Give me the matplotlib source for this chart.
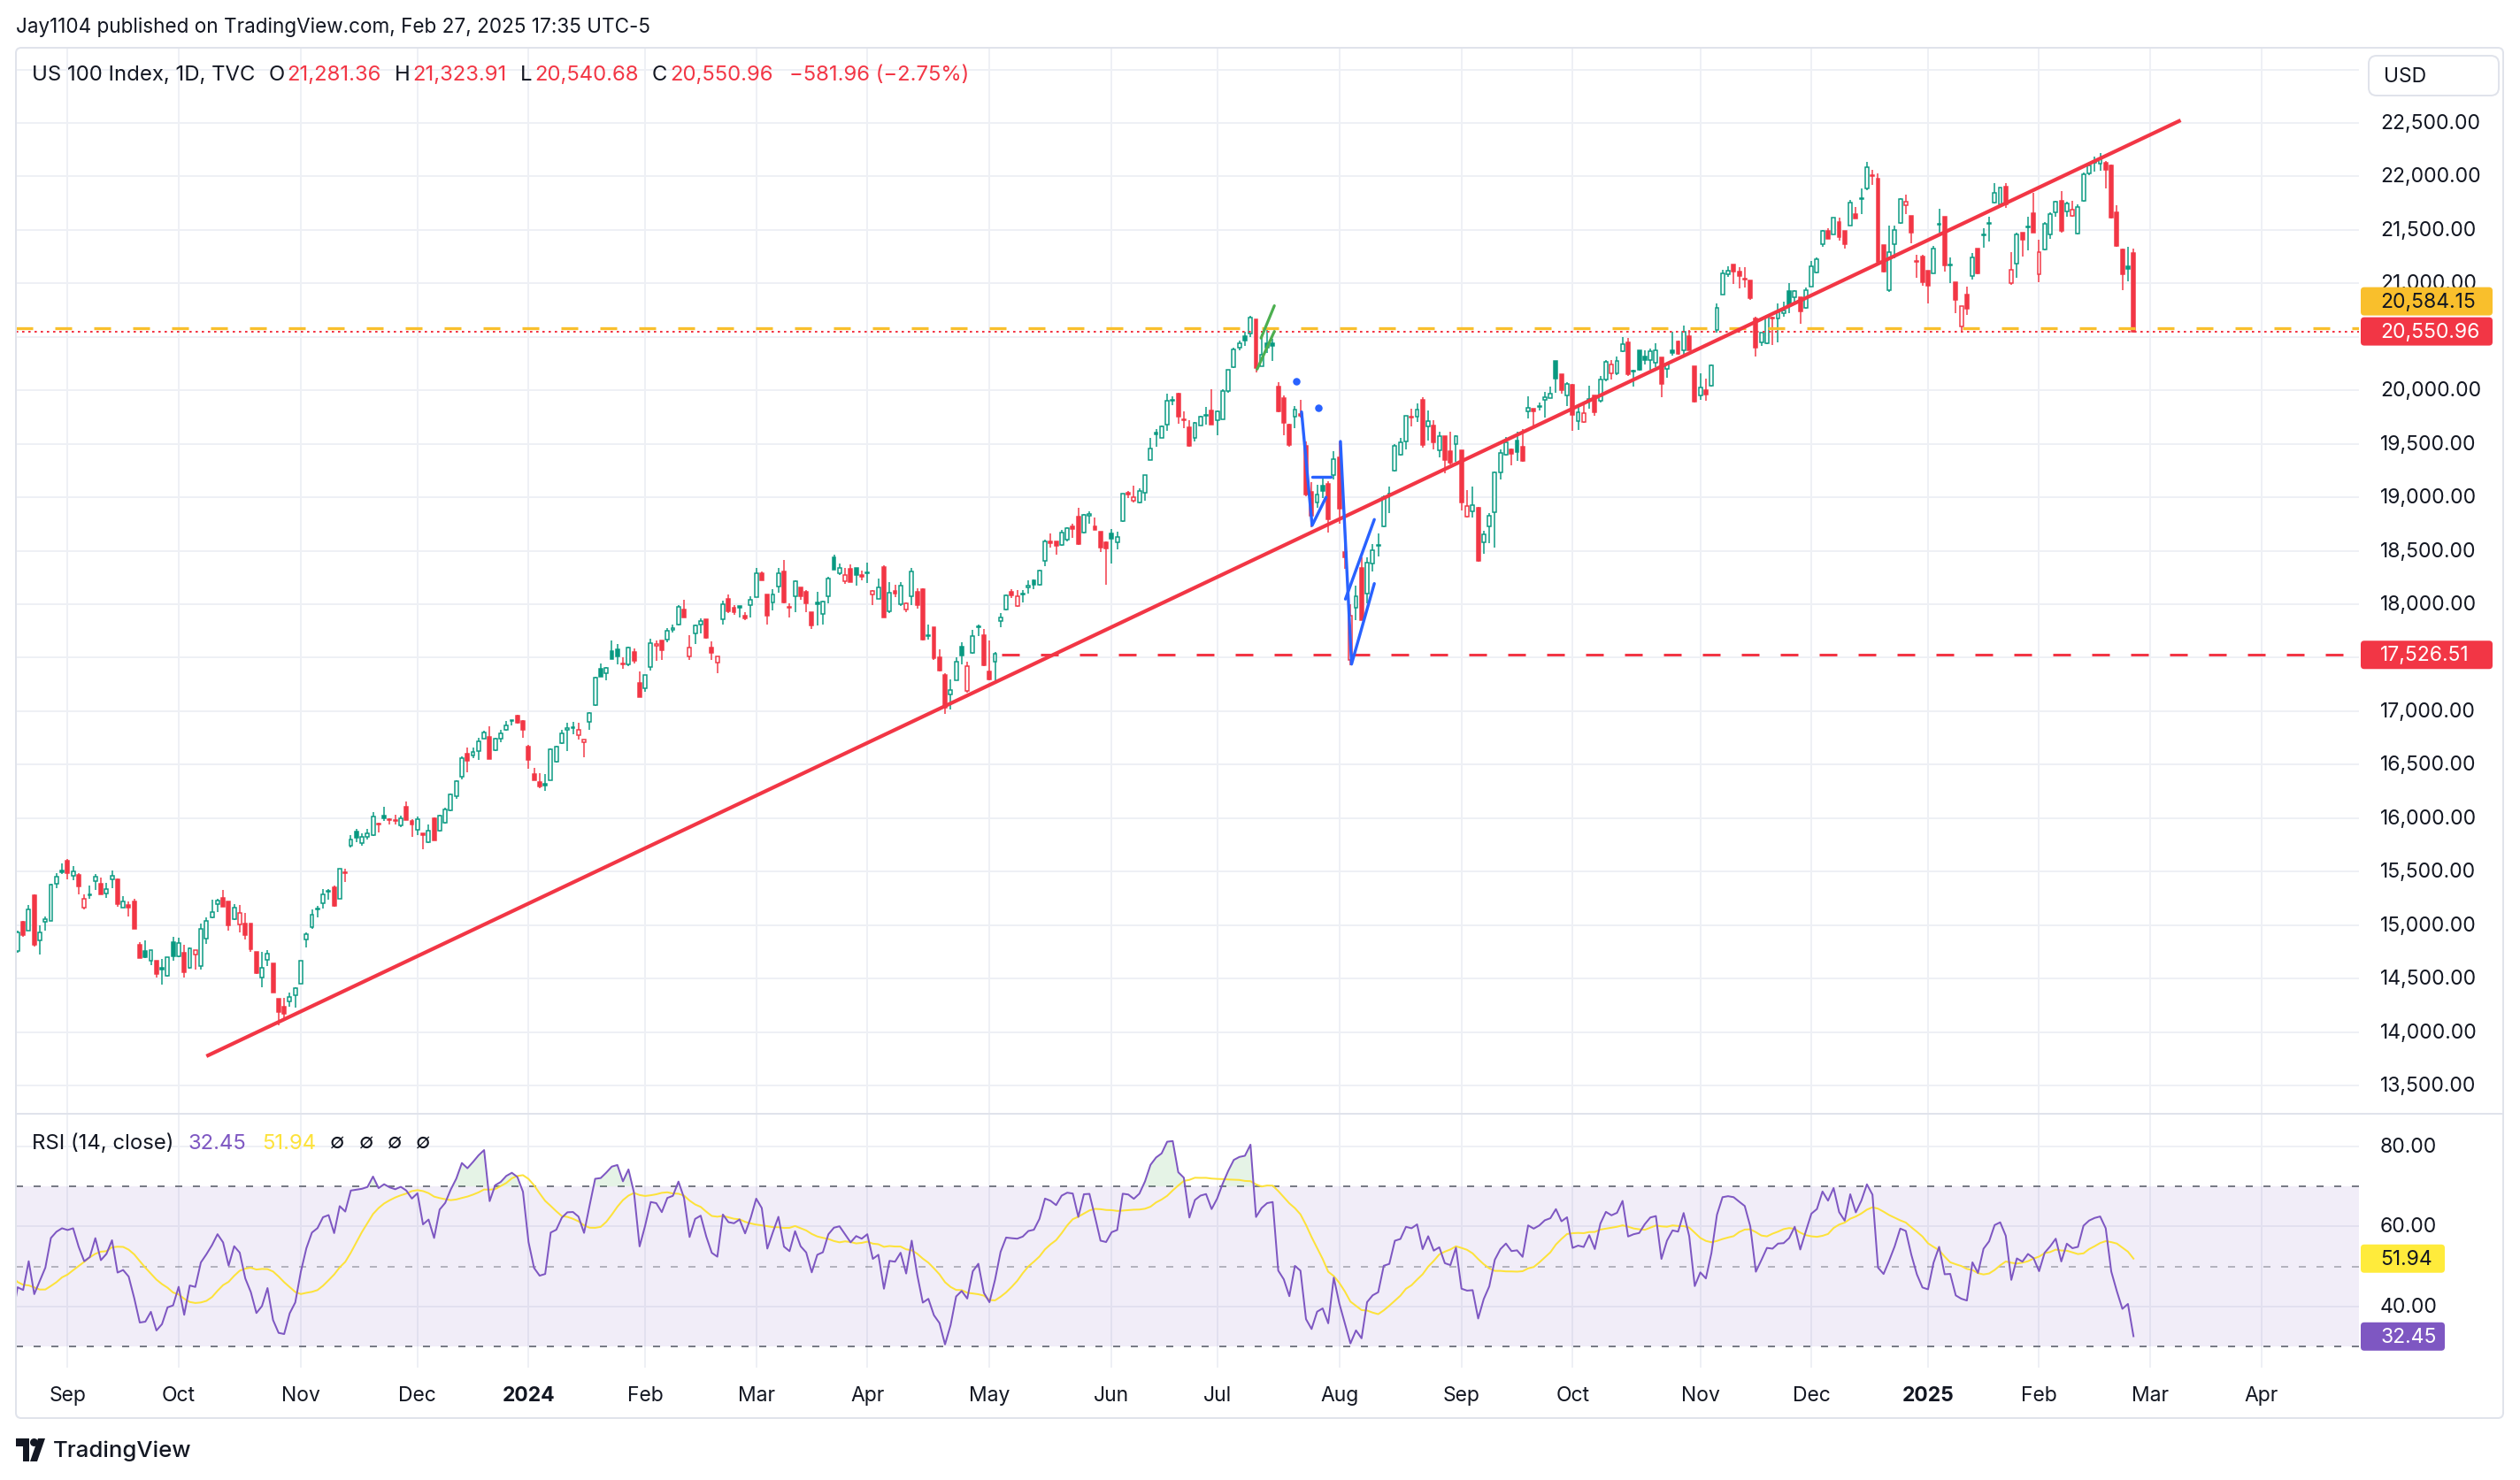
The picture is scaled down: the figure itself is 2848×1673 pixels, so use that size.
import numpy as np
import pandas as pd
import matplotlib
matplotlib.use("Agg")
import matplotlib.pyplot as plt
from matplotlib.patches import FancyBboxPatch, Polygon, Circle
from matplotlib.collections import LineCollection
from matplotlib.lines import Line2D
from matplotlib.transforms import IdentityTransform, blended_transform_factory

# ---------------------------------------------------------------- data
# US 100 Index daily candles, bar 0 = 2023-08-21 ... bar 381 = 2025-02-27
opens = [
    14760, 15028, 14945, 15276, 14854, 15028, 15036, 15386, 15510, 15601,
    15463, 15469, 15166, 15276, 15408, 15386, 15298, 15427, 15427, 15165,
    15190, 15221, 14812, 14757, 14664, 14669, 14600, 14523, 14843, 14710,
    14738, 14600, 14724, 14619, 14876, 15069, 15199, 15257, 15221, 15055,
    15006, 15014, 15014, 14752, 14509, 14675, 14641, 14310, 14240, 14283,
    14343, 14448, 14862, 14978, 15143, 15207, 15310, 15350, 15248, 15488,
    15739, 15877, 15767, 15828, 15841, 15948, 16020, 15985, 15975, 15932,
    16103, 15970, 15888, 15855, 15773, 15998, 15883, 15954, 16069, 16208,
    16387, 16602, 16583, 16630, 16740, 16762, 16635, 16746, 16823, 16905,
    16961, 16906, 16671, 16414, 16340, 16318, 16354, 16528, 16699, 16823,
    16840, 16773, 16707, 16900, 17058, 17398, 17353, 17563, 17582, 17440,
    17436, 17555, 17265, 17215, 17417, 17610, 17657, 17666, 17757, 17812,
    17950, 17513, 17729, 17812, 17859, 17591, 17453, 17859, 18053, 17970,
    17980, 17895, 17989, 18066, 18293, 18088, 18016, 18163, 18309, 17975,
    18072, 18154, 18115, 17928, 18016, 17906, 18072, 18439, 18292, 18218,
    18328, 18337, 18270, 18290, 18088, 18052, 18348, 17933, 18127, 17997,
    17950, 18074, 18115, 18140, 17700, 17783, 17506, 17340, 17160, 17285,
    17603, 17188, 17548, 17797, 17714, 17374, 17465, 17844, 17949, 18120,
    17982, 18095, 18160, 18220, 18185, 18405, 18590, 18585, 18558, 18600,
    18730, 18820, 18670, 18830, 18725, 18682, 18580, 18660, 18580, 18780,
    19045, 18970, 18950, 19043, 19347, 19605, 19555, 19680, 19905, 19970,
    19730, 19652, 19555, 19670, 19765, 19815, 19720, 19733, 19995, 20218,
    20398, 20508, 20532, 20667, 20226, 20440, 20440, 20038, 19927, 19680,
    19750, 19780, 19477, 19050, 18950, 19110, 19125, 19208, 19374, 18490,
    17480, 17965, 18338, 18103, 18380, 18545, 18725, 19030, 19250, 19394,
    19520, 19750, 19753, 19908, 19665, 19670, 19443, 19568, 19430, 19499,
    19438, 18822, 18869, 18905, 18581, 18730, 18858, 19236, 19394, 19450,
    19527, 19470, 19800, 19825, 19845, 19914, 19928, 20273, 20149, 19955,
    20052, 19715, 19707, 19905, 19955, 19900, 20102, 20163, 20157, 20362,
    20445, 20172, 20370, 20315, 20287, 20260, 20306, 20204, 20370, 20453,
    20370, 20508, 20224, 19955, 20002, 20047, 20564, 20895, 21089, 21180,
    21108, 21045, 21030, 20675, 20445, 20439, 20670, 20674, 20725, 20925,
    20870, 20870, 20770, 20972, 21103, 21364, 21488, 21455, 21570, 21488,
    21543, 21652, 21785, 21885, 22010, 21976, 21356, 20939, 21364, 21564,
    21729, 21630, 21210, 21255, 21117, 21095, 21550, 21620, 21165, 21013,
    20596, 20898, 21070, 21328, 21460, 21555, 21757, 21735, 21905, 21000,
    21186, 21474, 21520, 21658, 21082, 21318, 21460, 21666, 21775, 21674,
    21630, 21466, 21776, 22031, 22130, 22118, 22130, 22105, 21666, 21318,
    21160, 21281.36,
]
highs = [
    14950, 15040, 15188, 15290, 14995, 15083, 15386, 15482, 15580, 15620,
    15552, 15483, 15284, 15367, 15477, 15441, 15394, 15510, 15436, 15268,
    15221, 15243, 14843, 14854, 14763, 14669, 14683, 14700, 14890, 14884,
    14812, 14793, 14765, 15014, 15069, 15234, 15243, 15325, 15221, 15199,
    15188, 15116, 15014, 14752, 14752, 14765, 14641, 14310, 14319, 14371,
    14415, 14669, 14931, 15143, 15179, 15336, 15336, 15372, 15530, 15530,
    15841, 15896, 15855, 15896, 16055, 15960, 16109, 16000, 16034, 16025,
    16158, 15993, 16014, 15860, 15938, 16003, 16034, 16097, 16227, 16352,
    16577, 16657, 16663, 16754, 16818, 16859, 16754, 16829, 16912, 16920,
    16967, 16920, 16685, 16470, 16417, 16409, 16649, 16680, 16829, 16892,
    16900, 16892, 16735, 16994, 17320, 17445, 17409, 17657, 17624, 17508,
    17602, 17583, 17370, 17342, 17680, 17657, 17657, 17776, 17812, 17989,
    18039, 17712, 17812, 17867, 17859, 17652, 17514, 18033, 18094, 17990,
    17980, 17922, 18072, 18337, 18310, 18094, 18143, 18337, 18417, 18005,
    18226, 18154, 18135, 17928, 18115, 18033, 18254, 18467, 18384, 18337,
    18375, 18337, 18315, 18392, 18135, 18237, 18364, 18204, 18180, 18204,
    18020, 18336, 18150, 18150, 17810, 17783, 17576, 17354, 17299, 17506,
    17645, 17465, 17761, 17810, 17770, 17659, 17556, 17921, 18093, 18143,
    18130, 18130, 18226, 18231, 18323, 18600, 18663, 18590, 18697, 18723,
    18750, 18903, 18848, 18870, 18808, 18682, 18590, 18700, 18680, 19036,
    19060, 19110, 19080, 19210, 19553, 19637, 19670, 19970, 19940, 19980,
    19805, 19720, 19705, 19760, 19843, 20010, 19815, 20010, 20195, 20398,
    20462, 20550, 20694, 20667, 20523, 20578, 20480, 20080, 19955, 19687,
    19852, 19910, 19520, 19140, 19120, 19200, 19150, 19430, 19526, 18700,
    18000, 18170, 18435, 18435, 18560, 18664, 19015, 19098, 19500, 19554,
    19762, 19830, 19880, 19936, 19810, 19720, 19610, 19568, 19615, 19582,
    19438, 19068, 19098, 18913, 18683, 18850, 19245, 19444, 19560, 19455,
    19610, 19640, 19940, 19830, 19890, 19983, 20038, 20273, 20149, 20074,
    20058, 19858, 19873, 20040, 19955, 20135, 20287, 20287, 20315, 20500,
    20489, 20190, 20378, 20370, 20390, 20440, 20306, 20260, 20550, 20467,
    20605, 20564, 20224, 20163, 20107, 20240, 20812, 21130, 21158, 21180,
    21150, 21150, 21030, 20690, 20536, 20688, 20685, 20812, 20830, 21005,
    20940, 20870, 20960, 21213, 21240, 21502, 21515, 21617, 21611, 21488,
    21784, 21713, 21885, 22133, 22064, 22031, 21356, 21537, 21542, 21795,
    21830, 21630, 21268, 21268, 21117, 21350, 21700, 21620, 21240, 21013,
    20788, 20972, 21282, 21328, 21515, 21620, 21940, 21900, 21940, 21295,
    21474, 21474, 21620, 21844, 21405, 21570, 21666, 21775, 21866, 21762,
    21775, 21740, 22036, 22119, 22187, 22215, 22146, 22113, 21729, 21323,
    21345, 21323.91,
]
lows = [
    14740, 14890, 14945, 14800, 14724, 14950, 15036, 15345, 15480, 15427,
    15419, 15290, 15143, 15248, 15331, 15284, 15256, 15345, 15171, 15160,
    15077, 14967, 14691, 14691, 14625, 14509, 14443, 14517, 14669, 14702,
    14509, 14592, 14586, 14580, 14821, 15061, 15124, 15171, 14945, 15050,
    14931, 14868, 14752, 14545, 14421, 14614, 14366, 14062, 14112, 14239,
    14228, 14448, 14793, 14967, 15069, 15157, 15235, 15171, 15243, 15405,
    15728, 15772, 15739, 15800, 15833, 15869, 15971, 15943, 15938, 15915,
    15980, 15828, 15841, 15707, 15765, 15790, 15877, 15948, 16061, 16180,
    16362, 16431, 16561, 16547, 16740, 16552, 16624, 16713, 16818, 16865,
    16887, 16754, 16459, 16354, 16280, 16257, 16354, 16519, 16690, 16624,
    16782, 16735, 16569, 16823, 17050, 17326, 17287, 17486, 17436, 17398,
    17425, 17445, 17132, 17182, 17381, 17472, 17480, 17646, 17735, 17800,
    17873, 17480, 17629, 17729, 17674, 17480, 17357, 17812, 17915, 17900,
    17873, 17850, 17873, 18066, 18226, 17812, 17942, 18108, 18005, 17878,
    17928, 18038, 17922, 17768, 17804, 17812, 18011, 18320, 18273, 18190,
    18210, 18176, 18226, 18200, 17990, 18052, 17878, 17914, 18070, 17983,
    17925, 17990, 17960, 17660, 17672, 17479, 17374, 16975, 17014, 17285,
    17437, 17174, 17534, 17700, 17423, 17291, 17291, 17783, 17943, 18060,
    17977, 18020, 18100, 18143, 18176, 18359, 18530, 18460, 18550, 18586,
    18617, 18558, 18664, 18750, 18697, 18489, 18185, 18380, 18510, 18767,
    18990, 18950, 18945, 18970, 19347, 19470, 19555, 19625, 19860, 19690,
    19650, 19475, 19525, 19670, 19680, 19680, 19580, 19725, 19980, 20205,
    20370, 20412, 20495, 20170, 20226, 20350, 20276, 19795, 19580, 19470,
    19645, 19745, 19010, 18720, 18900, 18990, 18668, 19166, 18751, 18330,
    17433, 17855, 17855, 18006, 18310, 18448, 18720, 18850, 19245, 19390,
    19450, 19660, 19700, 19466, 19532, 19445, 19375, 19228, 19305, 19333,
    18877, 18808, 18808, 18400, 18470, 18573, 18530, 19167, 19390, 19300,
    19340, 19335, 19735, 19650, 19810, 19742, 19928, 19974, 19969, 19852,
    19624, 19632, 19693, 19825, 19760, 19886, 20085, 20099, 20140, 20356,
    20135, 20038, 20185, 20240, 20196, 20218, 19936, 20121, 20328, 20334,
    20306, 20378, 19886, 19914, 19900, 20038, 20536, 20895, 21061, 20998,
    20950, 20960, 20845, 20315, 20417, 20431, 20420, 20445, 20690, 20720,
    20830, 20620, 20760, 20966, 21090, 21345, 21420, 21455, 21400, 21323,
    21537, 21605, 21652, 21872, 21921, 21186, 21104, 20917, 21235, 21556,
    21652, 21378, 21049, 20980, 20815, 21090, 21475, 21109, 21000, 20725,
    20547, 20706, 21035, 21084, 21337, 21390, 21750, 21730, 21707, 20990,
    21049, 21254, 21310, 21474, 21007, 21310, 21419, 21625, 21474, 21625,
    21625, 21460, 21762, 22015, 22045, 22050, 21885, 21603, 21345, 20939,
    21021, 20540.68,
]
closes = [
    14930, 14903, 15143, 14812, 14931, 15055, 15378, 15455, 15497, 15483,
    15502, 15364, 15248, 15284, 15455, 15284, 15339, 15463, 15199, 15221,
    15165, 14967, 14691, 14697, 14763, 14545, 14586, 14697, 14710, 14835,
    14559, 14779, 14765, 14967, 15041, 15124, 15229, 15171, 14995, 15165,
    15116, 14903, 14774, 14550, 14600, 14735, 14371, 14190, 14173, 14324,
    14407, 14669, 14912, 15097, 15152, 15290, 15317, 15179, 15524, 15482,
    15800, 15814, 15828, 15855, 16014, 15943, 15998, 15980, 15970, 15998,
    15980, 15943, 15993, 15845, 15883, 15790, 16020, 16083, 16219, 16346,
    16558, 16533, 16621, 16721, 16804, 16552, 16746, 16790, 16870, 16912,
    16892, 16823, 16541, 16354, 16293, 16305, 16644, 16671, 16790, 16845,
    16848, 16823, 16735, 16983, 17315, 17326, 17403, 17491, 17514, 17436,
    17591, 17472, 17132, 17342, 17638, 17630, 17569, 17748, 17776, 17975,
    17873, 17591, 17804, 17845, 17685, 17547, 17514, 17997, 17934, 17925,
    17970, 17867, 18039, 18293, 18226, 17895, 18088, 18293, 18016, 17970,
    18218, 18072, 18011, 17804, 17997, 18025, 18237, 18320, 18337, 18273,
    18210, 18273, 18254, 18295, 18121, 18154, 17878, 18107, 18100, 18176,
    18010, 18309, 17995, 17672, 17706, 17493, 17382, 17036, 17196, 17465,
    17520, 17423, 17700, 17783, 17429, 17299, 17534, 17880, 18087, 18080,
    18075, 18102, 18170, 18185, 18314, 18591, 18575, 18545, 18670, 18710,
    18705, 18564, 18835, 18840, 18697, 18530, 18520, 18610, 18630, 19030,
    19025, 19000, 19060, 19210, 19457, 19585, 19660, 19900, 19915, 19750,
    19720, 19478, 19692, 19750, 19770, 19680, 19800, 19995, 20190, 20384,
    20440, 20462, 20683, 20205, 20330, 20400, 20415, 19800, 19697, 19485,
    19817, 19760, 19028, 18830, 19023, 19060, 18793, 19360, 18890, 18440,
    17895, 18075, 17855, 18393, 18504, 18553, 19001, 19035, 19477, 19513,
    19762, 19742, 19817, 19485, 19714, 19513, 19568, 19347, 19320, 19575,
    18952, 18918, 18924, 18407, 18656, 18830, 19236, 19416, 19513, 19410,
    19422, 19340, 19838, 19800, 19852, 19936, 19969, 20113, 20002, 20060,
    19770, 19798, 19785, 19920, 19798, 20102, 20268, 20240, 20273, 20434,
    20149, 20176, 20190, 20287, 20362, 20378, 20058, 20240, 20351, 20342,
    20550, 20378, 19892, 20030, 19964, 20232, 20771, 21097, 21117, 21108,
    21070, 21035, 20865, 20398, 20536, 20688, 20680, 20740, 20745, 20800,
    20925, 20740, 20940, 21164, 21227, 21488, 21420, 21617, 21433, 21364,
    21757, 21605, 21790, 22086, 22000, 21200, 21109, 21290, 21501, 21789,
    21762, 21474, 21205, 21008, 20980, 21323, 21556, 21172, 21177, 20843,
    20788, 20760, 21240, 21090, 21446, 21565, 21845, 21894, 21740, 21126,
    21460, 21411, 21530, 21474, 21296, 21556, 21652, 21767, 21488, 21748,
    21693, 21712, 22023, 22105, 22146, 22168, 22064, 21611, 21351, 21082,
    21132.92, 20550.96,
]
# closes before the visible window (2023-07-05 .. 2023-08-18), used only to warm up the RSI
warmup_closes = [
    15040, 14920, 14944, 14960, 15070, 15320, 15570, 15565, 15730, 15870,
    15840, 15470, 15330, 15390, 15520, 15440, 15460, 15750, 15760, 15730,
    15390, 15380, 15270, 15400, 15260, 15090, 15110, 15010, 15210, 15030,
    14860, 14690, 14690,
]

month_labels = ["Sep", "Oct", "Nov", "Dec", "2024", "Feb", "Mar", "Apr", "May", "Jun",
                "Jul", "Aug", "Sep", "Oct", "Nov", "Dec", "2025", "Feb", "Mar", "Apr"]
month_bars = [9, 29, 51, 72, 92, 113, 133, 153, 175, 197,
              216, 238, 260, 280, 303, 323, 344, 364, 384, 404]
bold_labels = ["2024", "2025"]

price_ticks = [13500, 14000, 14500, 15000, 15500, 16000, 16500, 17000, 17500, 18000,
               18500, 19000, 19500, 20000, 20500, 21000, 21500, 22000, 22500, 23000]
price_tick_hidden = [17500, 20500, 23000]
rsi_ticks = [80, 60, 40]

# drawings on the chart (bar index, price)
trend_x = [34.0, 389.5]
trend_y = [13774, 22525]
support_level = 17526.51
support_start = 177.2
resistance_level = 20584.15
green_a_x, green_a_y = [223.9, 226.3], [20488, 20791]
green_b_x, green_b_y = [223.2, 226.3], [20198, 20551]
blue_dot_x, blue_dot_y = [230.2, 234.2], [20085, 19837]
blue_a_x, blue_a_y = [231.2, 233.1, 235.6], [19798, 18737, 19000]
blue_b_x, blue_b_y = [233.1, 236.4], [19192, 19192]
blue_c_x, blue_c_y = [238.2, 240.2, 244.3], [19522, 17440, 18193]
blue_d_x, blue_d_y = [239.1, 244.3], [18048, 18792]

rsi_value_label = 32.45
rsi_ma_value_label = 51.94

title_text = "Jay1104 published on TradingView.com, Feb 27, 2025 17:35 UTC-5"
symbol_text = "US 100 Index, 1D, TVC"

assert len(opens) == len(highs) == len(lows) == len(closes) == 382

# ---------------------------------------------------------------- style
plt.rcParams['lines.scale_dashes'] = False
plt.rcParams['font.family'] = ['Inter', 'DejaVu Sans']

W, H, DPI = 2848, 1674, 100
PT = 72.0 / DPI          # points per output pixel
ID = IdentityTransform()
UP, DN = '#089981', '#F23645'
TXT = '#131722'
GRID = '#EEF0F5'
BORDER = '#E0E3EB'
FS = 16.5
FS_LEG = 17.2


def Y(py):
    return H - py


fig = plt.figure(figsize=(W / DPI, H / DPI), dpi=DPI, facecolor='white')

PL, PR = 18, 2666
P_TOP, P_BOT = 55, 1259
R_TOP, R_BOT = 1261, 1547

ax = fig.add_axes([PL / W, Y(P_BOT) / H, (PR - PL) / W, (P_BOT - P_TOP) / H])
axr = fig.add_axes([PL / W, Y(R_BOT) / H, (PR - PL) / W, (R_BOT - R_TOP) / H])
for a in (ax, axr):
    a.set_facecolor('none')
    for s in a.spines.values():
        s.set_visible(False)
    a.set_xticks([])
    a.set_yticks([])
    a.set_xlim(-0.3, 421.6)
ax.set_ylim(13244, 23203)
axr.set_ylim(24.65, 87.97)

# grid
for b in month_bars:
    ax.axvline(b, color=GRID, lw=2 * PT, zorder=0)
    axr.axvline(b, color=GRID, lw=2 * PT, zorder=0)
for v in price_ticks:
    ax.axhline(v, color=GRID, lw=2 * PT, zorder=0)
for v in rsi_ticks:
    axr.axhline(v, color=GRID, lw=2 * PT, zorder=0)

# ---------------------------------------------------------------- candles
o = np.array(opens, float)
h = np.array(highs, float)
l = np.array(lows, float)
c = np.array(closes, float)
n = len(c)
xb = np.arange(n)
prev = np.r_[warmup_closes[-1], c[:-1]]
col = np.where(c >= prev, UP, DN)
lo_b = np.minimum(o, c)
hi_b = np.maximum(o, c)
segs = [[(xb[i], hi_b[i]), (xb[i], h[i])] for i in range(n)] + \
       [[(xb[i], l[i]), (xb[i], lo_b[i])] for i in range(n)]
ax.add_collection(LineCollection(segs, colors=list(col) + list(col),
                                 linewidths=1.5 * PT, zorder=2))
heights = np.maximum(hi_b - lo_b, 8.0)
faces = [col[i] if c[i] <= o[i] else 'white' for i in range(n)]
ax.bar(xb, heights, bottom=lo_b, width=0.62, color=faces, edgecolor=col,
       linewidth=1.5 * PT, zorder=3)

# ---------------------------------------------------------------- drawings
xmax = ax.get_xlim()[1]
ax.axhline(resistance_level, color='#F9BF2C', lw=3.3 * PT,
           dashes=(19 * PT, 25 * PT), zorder=4)
ax.axhline(c[-1], color=DN, lw=2 * PT, dashes=(2.6 * PT, 4.4 * PT), zorder=4)
ax.plot([support_start, xmax], [support_level, support_level], color=DN,
        lw=3 * PT, dashes=(20 * PT, 24 * PT), zorder=4)
ax.plot(trend_x, trend_y, color=DN, lw=4.2 * PT, solid_capstyle='butt', zorder=5)
for gx, gy in ((green_a_x, green_a_y), (green_b_x, green_b_y)):
    ax.plot(gx, gy, color='#4CAF50', lw=3.2 * PT, solid_capstyle='round', zorder=5)
for bx, by in ((blue_a_x, blue_a_y), (blue_b_x, blue_b_y),
               (blue_c_x, blue_c_y), (blue_d_x, blue_d_y)):
    ax.plot(bx, by, color='#2962FF', lw=3.4 * PT, solid_capstyle='round',
            solid_joinstyle='round', zorder=5)
ax.plot(blue_dot_x, blue_dot_y, 'o', color='#2962FF', ms=8.5 * PT, mew=0, zorder=5)

# ---------------------------------------------------------------- RSI
all_c = np.array(warmup_closes + closes, float)
delta = np.diff(all_c)
gain = np.clip(delta, 0, None)
loss = np.clip(-delta, 0, None)


def rma(v, k):
    out = np.full(len(v), np.nan)
    out[k - 1] = v[:k].mean()
    for i in range(k, len(v)):
        out[i] = (out[i - 1] * (k - 1) + v[i]) / k
    return out


ag, al = rma(gain, 14), rma(loss, 14)
rsi = np.r_[np.nan, 100 - 100 / (1 + ag / al)]
rsi_ma = pd.Series(rsi).rolling(14).mean().values
xr = np.arange(len(all_c)) - len(warmup_closes)
keep = xr >= -2
xr, rsi, rsi_ma = xr[keep], rsi[keep], rsi_ma[keep]

axr.axhspan(30, 70, color='#7E57C2', alpha=0.10, lw=0, zorder=1)
axr.axhline(70, color='#787B86', lw=2 * PT, dashes=(8 * PT, 12 * PT), zorder=2)
axr.axhline(30, color='#787B86', lw=2 * PT, dashes=(8 * PT, 12 * PT), zorder=2)
axr.axhline(50, color='#787B86', alpha=0.5, lw=2 * PT, dashes=(8 * PT, 12 * PT), zorder=2)
axr.fill_between(xr, rsi, 70, where=rsi > 70, interpolate=True,
                 color='#4CAF50', alpha=0.14, lw=0, zorder=2)
axr.fill_between(xr, rsi, 30, where=rsi < 30, interpolate=True,
                 color='#F23645', alpha=0.14, lw=0, zorder=2)
axr.plot(xr, rsi_ma, color='#FDE23A', lw=2 * PT, zorder=3)
axr.plot(xr, rsi, color='#7E57C2', lw=2 * PT, zorder=4)

# ---------------------------------------------------------------- right scale
LBL_X = 2690
tr_p = blended_transform_factory(ID, ax.transData)
for v in price_ticks:
    if v in price_tick_hidden:
        continue
    ax.text(LBL_X, v, f"{v:,.2f}", transform=tr_p, fontsize=FS, color=TXT,
            va='center', ha='left')
tr_r = blended_transform_factory(ID, axr.transData)
for v in rsi_ticks:
    axr.text(LBL_X, v, f"{v:.2f}", transform=tr_r, fontsize=FS, color=TXT,
             va='center', ha='left')


def disp_y(a, v):
    return a.transData.transform((0, v))[1]


def value_box(yc, x1, text, bg, fg, hgt=32):
    x0 = 2668
    fig.add_artist(FancyBboxPatch((x0, yc - hgt / 2), x1 - x0, hgt,
                                  boxstyle='round,pad=0,rounding_size=4',
                                  transform=ID, facecolor=bg, edgecolor='none',
                                  zorder=6))
    fig.text(LBL_X, yc, text, transform=ID, fontsize=FS, color=fg,
             va='center', ha='left', zorder=7)


y_last = disp_y(ax, c[-1])
value_box(y_last + 34, 2817, f"{resistance_level:,.2f}", '#F9BF2C', TXT)
value_box(y_last, 2817, f"{c[-1]:,.2f}", DN, 'white')
value_box(disp_y(ax, support_level), 2817, f"{support_level:,.2f}", DN, 'white')
value_box(disp_y(axr, rsi_ma_value_label), 2763, f"{rsi_ma_value_label:.2f}", '#FFEB3B', TXT)
value_box(disp_y(axr, rsi_value_label), 2763, f"{rsi_value_label:.2f}", '#7E57C2', 'white')

# USD box
fig.add_artist(FancyBboxPatch((2677, Y(109)), 147, 45,
                              boxstyle='round,pad=0,rounding_size=9', transform=ID,
                              facecolor='white', edgecolor=BORDER, lw=2 * PT, zorder=6))
fig.text(2694, Y(87), "USD", transform=ID, fontsize=FS, color=TXT,
         va='center', ha='left', zorder=7)

# ---------------------------------------------------------------- time axis
tr_t = blended_transform_factory(ax.transData, ID)
for lab, b in zip(month_labels, month_bars):
    ax.text(b, Y(1578), lab, transform=tr_t, fontsize=FS, color=TXT,
            ha='center', va='center',
            fontweight='bold' if lab in bold_labels else 'normal')

# ---------------------------------------------------------------- frame
fig.add_artist(FancyBboxPatch((PL, Y(1604)), 2829 - PL, 1604 - 55,
                              boxstyle='round,pad=0,rounding_size=6', transform=ID,
                              facecolor='none', edgecolor=BORDER, lw=2 * PT, zorder=8))
fig.add_artist(Line2D([PL, 2829], [Y(1260), Y(1260)], transform=ID,
                      color=BORDER, lw=2 * PT, zorder=8))

# ---------------------------------------------------------------- header / legends
renderer = fig.canvas.get_renderer()


def seq_text(x, y, parts, size=FS_LEG):
    for s, colr, gap in parts:
        t = fig.text(x, y, s, transform=ID, fontsize=size, color=colr,
                     va='center', ha='left', zorder=9)
        bb = t.get_window_extent(renderer)
        x = bb.x1 + gap


fig.text(18, Y(31), title_text, transform=ID, fontsize=16.2, color=TXT,
         va='center', ha='left')

chg = c[-1] - c[-2]
pct = chg / c[-2] * 100
seq_text(36, Y(85), [
    (symbol_text, TXT, 15),
    ("O", TXT, 3), (f"{o[-1]:,.2f}", DN, 15),
    ("H", TXT, 3), (f"{h[-1]:,.2f}", DN, 15),
    ("L", TXT, 3), (f"{l[-1]:,.2f}", DN, 15),
    ("C", TXT, 3), (f"{c[-1]:,.2f}", DN, 18),
    (f"{chg:,.2f} ({pct:.2f}%)".replace('-', '\u2212'), DN, 0),
])
seq_text(36, Y(1293), [
    ("RSI (14, close)", TXT, 16),
    (f"{rsi_value_label:.2f}", '#7E57C2', 18),
    (f"{rsi_ma_value_label:.2f}", '#FDE23A', 16),
    ("\u2205", TXT, 16), ("\u2205", TXT, 16), ("\u2205", TXT, 16), ("\u2205", TXT, 0),
])

# TradingView logo
lx, ly = 18, Y(1627)
fig.add_artist(Polygon([(lx, ly), (lx + 15, ly), (lx + 15, ly - 26), (lx + 8, ly - 26),
                        (lx + 8, ly - 9), (lx, ly - 9)], closed=True, transform=ID,
                       facecolor=TXT, edgecolor='none'))
fig.add_artist(Circle((lx + 20.5, ly - 4.5), 4.5, transform=ID, facecolor=TXT,
                      edgecolor='none'))
fig.add_artist(Polygon([(lx + 25, ly), (lx + 33, ly), (lx + 24, ly - 26),
                        (lx + 16, ly - 26)], closed=True, transform=ID,
                       facecolor=TXT, edgecolor='none'))
fig.text(60, Y(1640), "TradingView", transform=ID, fontsize=18.5, color=TXT,
         va='center', ha='left', fontweight='medium')

fig.savefig("out.png", dpi=DPI, facecolor='white')
